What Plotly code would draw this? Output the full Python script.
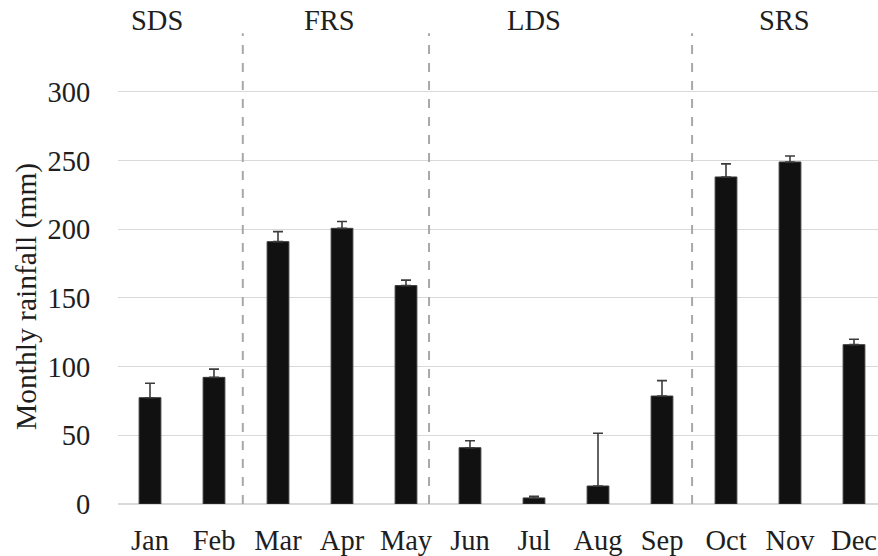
import plotly.graph_objects as go

# Monthly rainfall with upward standard-error bars
months = ["Jan", "Feb", "Mar", "Apr", "May", "Jun", "Jul", "Aug", "Sep", "Oct", "Nov", "Dec"]
rainfall = [77.4, 92.2, 191.0, 200.7, 159.0, 41.0, 4.4, 13.1, 78.6, 238.1, 249.0, 116.0]
rain_err = [10.5, 6.0, 7.3, 5.0, 4.0, 5.0, 1.2, 38.4, 11.2, 9.5, 4.4, 4.0]

# Seasons and where their labels / dividers sit along the month axis
seasons = ["SDS", "FRS", "LDS", "SRS"]
season_label_x = [0.11, 2.81, 6.0, 9.92]
season_dividers = [1.45, 4.36, 8.47]
y_ticks = [0, 50, 100, 150, 200, 250, 300]

FONT = "Liberation Serif"
TEXT = "#1e1e1e"
x_pos = list(range(len(months)))

fig = go.Figure()
fig.add_trace(go.Bar(
    x=x_pos,
    y=rainfall,
    width=0.34,
    marker=dict(color="#111111", line=dict(color="#3a3a3a", width=1)),
    error_y=dict(type="data", array=rain_err, symmetric=False,
                 arrayminus=[0] * len(rain_err),
                 color="#3c3c3c", thickness=1.6, width=5),
    showlegend=False,
))

shapes = []
for xd in season_dividers:
    shapes.append(dict(type="line", xref="x", yref="paper", x0=xd, x1=xd,
                       y0=0, y1=0.993,
                       line=dict(color="#a8a8a8", width=2, dash="dash"),
                       layer="above"))

annotations = []
for name, xs in zip(seasons, season_label_x):
    annotations.append(dict(text=name, x=xs, xref="x", y=1.019, yref="paper",
                            xanchor="center", yanchor="middle", showarrow=False,
                            font=dict(family=FONT, size=28.5, color=TEXT)))
annotations.append(dict(text="Monthly rainfall (mm)", textangle=-90,
                        x=-0.1197, xref="paper", y=0.437, yref="paper",
                        xanchor="center", yanchor="middle", showarrow=False,
                        font=dict(family=FONT, size=29.5, color=TEXT)))

fig.update_layout(
    width=878, height=556,
    margin=dict(l=118, r=0, t=30, b=52),
    paper_bgcolor="white", plot_bgcolor="white",
    font=dict(family=FONT, size=28, color=TEXT),
    shapes=shapes,
    annotations=annotations,
    xaxis=dict(range=[-0.5, 11.375], tickvals=x_pos, ticktext=months,
               showgrid=False, zeroline=False, showline=False,
               ticks="outside", ticklen=11, tickcolor="rgba(0,0,0,0)",
               tickfont=dict(family=FONT, size=28.5, color=TEXT)),
    yaxis=dict(range=[0, 345.1], tickvals=y_ticks,
               showgrid=True, gridcolor="#d9d9d9", gridwidth=1,
               zeroline=True, zerolinecolor="#d9d9d9", zerolinewidth=1.5,
               showline=False,
               ticks="outside", ticklen=21, tickcolor="rgba(0,0,0,0)",
               tickfont=dict(family=FONT, size=28.5, color=TEXT)),
)

fig.write_html("out.html")
